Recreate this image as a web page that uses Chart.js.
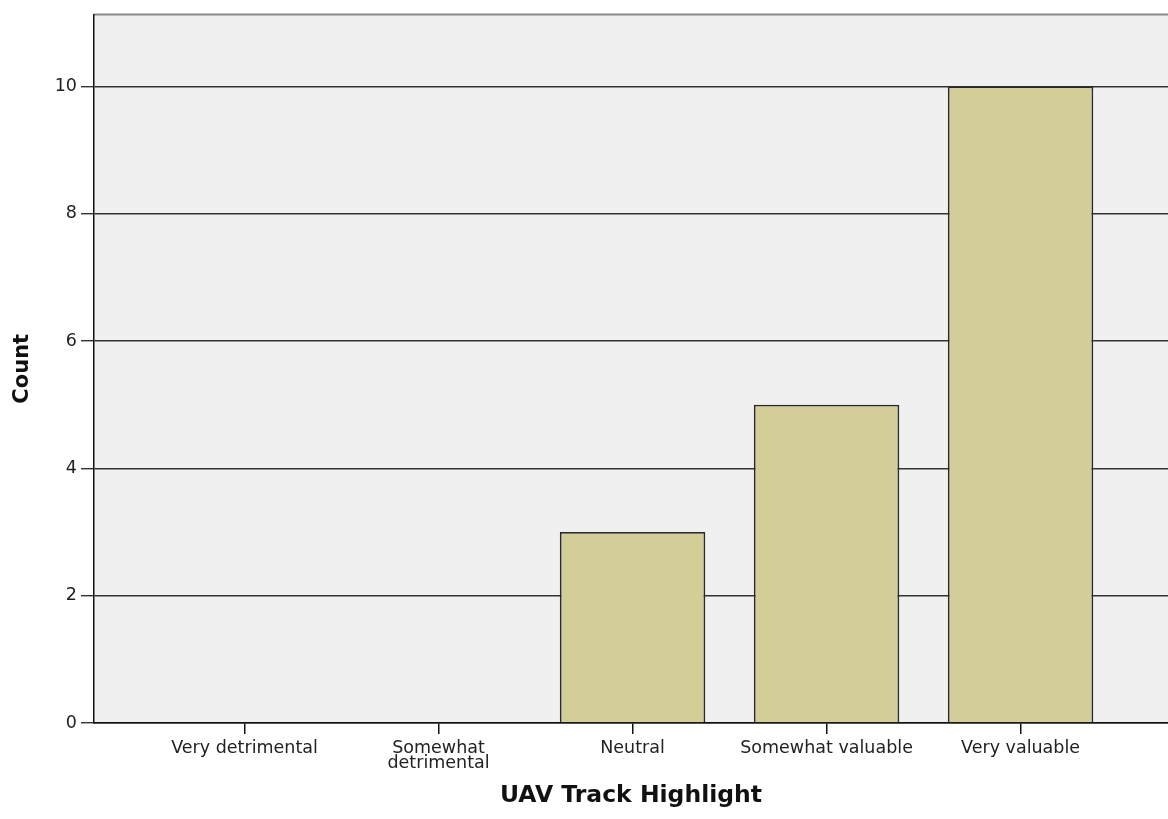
<!DOCTYPE html>
<html>
<head>
<meta charset="utf-8">
<script src="https://cdn.jsdelivr.net/npm/chart.js@4"></script>
<style>
  html, body { margin:0; padding:0; background:#fff; overflow:hidden; }
  #wrap { width:1168px; height:819px; }
</style>
</head>
<body>
<div id="wrap"><canvas id="uavChart"></canvas></div>
<script>
// data
const categories = ['Very detrimental', ['Somewhat', 'detrimental'], 'Neutral', 'Somewhat valuable', 'Very valuable'];
const counts = [0, 0, 3, 5, 10];
const yTicks = [0, 2, 4, 6, 8, 10];

// grey plot background + top frame line
const plotBg = {
  id: 'plotBg',
  beforeDraw(chart){
    const {ctx, chartArea:a} = chart;
    ctx.save();
    ctx.fillStyle = '#f0f0f0';
    ctx.fillRect(a.left, a.top, a.right - a.left, a.bottom - a.top);
    ctx.strokeStyle = '#888';
    ctx.lineWidth = 2;
    ctx.beginPath();
    ctx.moveTo(a.left, a.top);
    ctx.lineTo(a.right, a.top);
    ctx.stroke();
    ctx.restore();
  }
};

const ctx = document.getElementById('uavChart').getContext('2d');
new Chart(ctx, {
  type: 'bar',
  data: {
    datasets: [{
      label: 'Count',
      data: counts.map((v, i) => ({x: i, y: v})),
      backgroundColor: '#d3ce97',
      borderColor: '#2a2a2a',
      borderWidth: 1.8,
      borderSkipped: 'start',
      categoryPercentage: 1,
      barPercentage: 0.75
    }]
  },
  options: {
    responsive: true,
    maintainAspectRatio: false,
    animation: false,
    layout: {padding: {top: 12, left: 0, right: 0, bottom: 0}},
    plugins: {legend: {display: false}, tooltip: {enabled: false}},
    scales: {
      x: {
        type: 'linear',
        offset: false,
        min: -0.776,
        max: 4.76,
        afterBuildTicks: s => { s.ticks = categories.map((_, i) => ({value: i})); },
        afterFit: s => { s.height = 96; },
        grid: {offset: false, drawOnChartArea: false, color: '#111', tickLength: 11, lineWidth: 1.5},
        border: {color: '#111', width: 1.5},
        ticks: {
          autoSkip: false, maxRotation: 0, padding: 7, color: '#222',
          font: {family: 'DejaVu Sans', size: 17.5, lineHeight: 0.86},
          callback: v => categories[v]
        },
        title: {
          display: true, text: 'UAV Track Highlight', color: '#111',
          font: {family: 'DejaVu Sans', size: 23.5, weight: 'bold'},
          padding: {top: 0, bottom: 9}
        }
      },
      y: {
        min: 0,
        max: 11.13,
        afterBuildTicks: s => { s.ticks = yTicks.map(v => ({value: v})); },
        afterFit: s => { s.width = 94; },
        grid: {color: '#333', lineWidth: 1.4, tickLength: 13},
        border: {color: '#111', width: 1.5},
        ticks: {padding: 4, color: '#222', font: {family: 'DejaVu Sans', size: 17.5}},
        title: {
          display: true, text: 'Count', color: '#111',
          font: {family: 'DejaVu Sans', size: 21, weight: 'bold'},
          padding: {top: 10, bottom: 0}
        }
      }
    }
  },
  plugins: [plotBg]
});
</script>
</body>
</html>
